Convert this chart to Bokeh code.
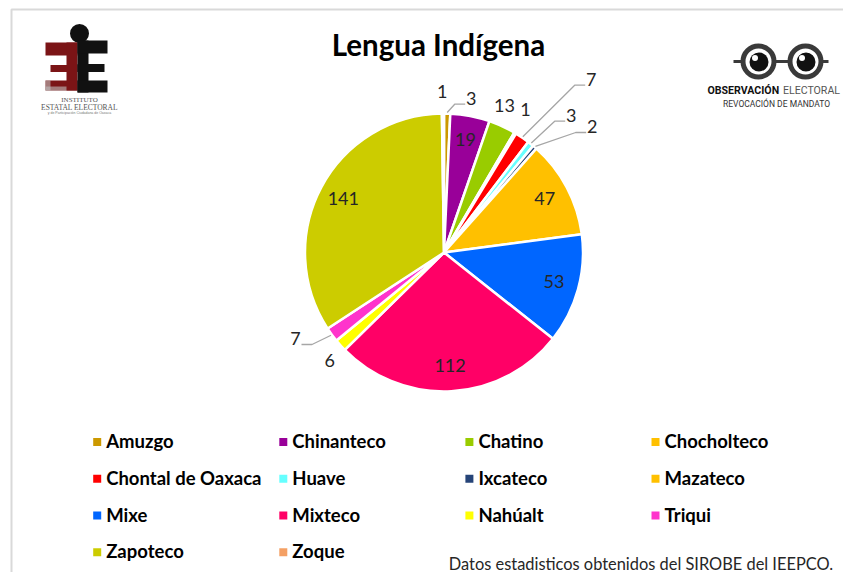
import math
import numpy as np
from bokeh.plotting import figure
from bokeh.models import Range1d, ColumnDataSource
from bokeh.core.properties import value
from bokeh.embed import file_html
from bokeh.resources import INLINE

# ---------------- data ----------------
categories = ["Amuzgo", "Chinanteco", "Chatino", "Chocholteco", "Chontal de Oaxaca",
              "Huave", "Ixcateco", "Mazateco", "Mixe", "Mixteco", "Nahúalt",
              "Triqui", "Zapoteco", "Zoque"]
values = [3, 19, 13, 1, 7, 3, 2, 47, 53, 112, 6, 7, 141, 1]
colors = ["#CC9900", "#990099", "#99CC00", "#FFC000", "#FF0000", "#66FFFF",
          "#264478", "#FFC000", "#0066FF", "#FF0066", "#FFFF00", "#FF33CC",
          "#CCCC00", "#F4A064"]
title = "Lengua Indígena"
footer = "Datos estadisticos obtenidos del SIROBE del IEEPCO."

# ---------------- layout (screen px) ----------------
W, H = 843, 572
def Y(s):
    return H - s

# y given to a text glyph (alphabetic) lands near the glyphs' visual centre
TXT_SHIFT = -1.0

CX, CY, R = 443.5, 252.0, 139.0
# outside label placement: (dx, dy) from pie centre, leader flag ; None -> inside
label_layout = [(27.2, -153.0, True), None, (60.5, -146.3, False), (81.5, -142.0, False),
                (147.2, -172.0, True), (127.2, -136.0, True), (148.2, -124.7, True),
                None, None, None, (-114.2, 109.0, False), (-148.5, 87.3, True),
                None, (-1.8, -160.3, False)]
NUM_FONT = "Lato"
NUM_SIZE = 18

p = figure(width=W, height=H, x_range=Range1d(0, W), y_range=Range1d(0, H),
           output_backend="svg", toolbar_location=None, min_border=0,
           x_axis_location=None, y_axis_location=None)
p.outline_line_color = None
p.xgrid.visible = False
p.ygrid.visible = False
p.background_fill_color = "white"
p.border_fill_color = "white"

# frame of the chart area
p.quad(left=[11], right=[900], top=[Y(9)], bottom=[Y(700)], fill_color=None,
       line_color="#D9D9D9", line_width=2)

# ---------------- pie ----------------
vals = np.array(values, dtype=float)
total = vals.sum()
cum = np.cumsum(vals)
starts = cum - vals
th0 = 2 * np.pi * starts / total
th1 = 2 * np.pi * cum / total
thm = (th0 + th1) / 2
src = ColumnDataSource(dict(start=np.pi / 2 - th0, end=np.pi / 2 - th1,
                            color=colors, cat=categories, val=values))
p.wedge(x=CX, y=Y(CY), radius=R, start_angle="start", end_angle="end",
        direction="clock", fill_color="color", line_color="white", line_width=2.5,
        source=src)

# ---------------- data labels ----------------
lx, ly, lt = [], [], []
leaders_x, leaders_y = [], []
for i, v in enumerate(values):
    lay = label_layout[i]
    if lay is None:
        r_in = 114.0
        x = CX + r_in * math.sin(thm[i])
        y = CY - r_in * math.cos(thm[i])
    else:
        dx, dy, lead = lay
        x = CX + dx
        y = CY + dy
        if lead:
            sx = CX + (R + 1) * math.sin(thm[i])
            sy = CY - (R + 1) * math.cos(thm[i])
            side = 1 if dx > 0 else -1
            ex = x - side * 16.5
            ey = y + 4.7
            fx = x - side * 6.0
            leaders_x.append([sx, ex, fx])
            leaders_y.append([Y(sy), Y(ey), Y(ey)])
    lx.append(x)
    ly.append(Y(y + TXT_SHIFT))
    lt.append(str(v))

p.multi_line(xs=leaders_x, ys=leaders_y, line_color="#A6A6A6", line_width=1.3)
p.text(x=lx, y=ly, text=lt, text_align="center", text_baseline="alphabetic",
       text_font=value(NUM_FONT), text_font_size=f"{NUM_SIZE}px", text_color="#262626")

# ---------------- title ----------------
p.text(x=[438], y=[Y(43.5)], text=[title], text_align="center", text_baseline="alphabetic",
       text_font=value("Lato"), text_font_style="bold", text_font_size="29.5px",
       text_color="#000000")

# ---------------- legend ----------------
LEG_SIZE = 18.5
mx, my, tx, ty = [], [], [], []
for i, c in enumerate(categories):
    col, row = i % 4, i // 4
    x = 96.7 + 186.1 * col
    y = 441.5 + 36.75 * row
    mx.append(x)
    my.append(Y(y))
    tx.append(x + 9.0)
    ty.append(Y(y + TXT_SHIFT))
p.scatter(x=mx, y=my, marker="square", size=8, fill_color=colors, line_color=None)
p.text(x=tx, y=ty, text=categories, text_align="left", text_baseline="alphabetic",
       text_font=value("Lato"), text_font_style="bold", text_font_size=f"{LEG_SIZE}px",
       text_color="#000000")

# ---------------- footer ----------------
p.text(x=[448.3], y=[Y(563)], text=[footer], text_align="left", text_baseline="alphabetic",
       text_font=value("Lato"), text_font_size="16.4px", text_color="#262626")

# ---------------- IEEPCO logo (approximation) ----------------
red = "#7B1416"
blk = "#111111"
p.circle(x=[79], y=[Y(33)], radius=9.5, fill_color=blk, line_color=None)
# red reversed E
p.quad(left=[45, 66, 50, 45], right=[77, 77, 77, 77],
       top=[Y(42), Y(42), Y(64.5), Y(80)], bottom=[Y(55), Y(90), Y(71.5), Y(90)],
       fill_color=red, line_color=None)
p.quad(left=[45, 45], right=[50, 66], top=[Y(80), Y(86)], bottom=[Y(90), Y(90)],
       fill_color="#BFBFBF", line_color=None, fill_alpha=0.6)
# black E
p.quad(left=[77, 77, 77, 77], right=[88, 107, 104, 107],
       top=[Y(40), Y(40), Y(63.5), Y(80)], bottom=[Y(92), Y(53), Y(71.5), Y(92)],
       fill_color=blk, line_color=None)
p.text(x=[79], y=[Y(99.5)], text=["INSTITUTO"], text_align="center",
       text_baseline="alphabetic", text_font=value("Liberation Serif"),
       text_font_size="7px", text_color="#555555")
p.text(x=[79], y=[Y(106.5)], text=["ESTATAL ELECTORAL"], text_align="center",
       text_baseline="alphabetic", text_font=value("Liberation Serif"),
       text_font_size="7.5px", text_color="#555555")
p.text(x=[79], y=[Y(112.8)], text=["y de Participación Ciudadana de Oaxaca"],
       text_align="center", text_baseline="alphabetic", text_font=value("Liberation Sans"),
       text_font_size="3.5px", text_color="#777777")

# ---------------- Observación electoral logo (approximation) ----------------
gd = "#3A3A3A"
p.multi_line(xs=[[733, 741], [775, 788], [822, 828]], ys=[[Y(61)] * 2] * 3,
             line_color=gd, line_width=3)
p.circle(x=[758, 805], y=[Y(61), Y(61)], radius=15.5, fill_color="white",
         line_color=gd, line_width=5)
p.circle(x=[758.5, 805.5], y=[Y(61.5), Y(61.5)], radius=9.5, fill_color="#111111",
         line_color=None)
p.circle(x=[754.5, 801.5], y=[Y(57.5), Y(57.5)], radius=3, fill_color="white",
         line_color=None)
p.text(x=[707], y=[Y(90)], text=["OBSERVACIÓN"], text_align="left",
       text_baseline="alphabetic", text_font=value("Roboto"), text_font_style="bold",
       text_font_size="10.6px", text_color="#111111")
p.text(x=[839.5], y=[Y(90)], text=["ELECTORAL"], text_align="right",
       text_baseline="alphabetic", text_font=value("Roboto"),
       text_font_size="10.6px", text_color="#555555")
p.text(x=[776], y=[Y(103.5)], text=["REVOCACIÓN DE MANDATO"], text_align="center",
       text_baseline="alphabetic", text_font=value("Roboto"),
       text_font_size="8.5px", text_color="#333333")

open("out.html", "w").write(file_html(p, INLINE))
